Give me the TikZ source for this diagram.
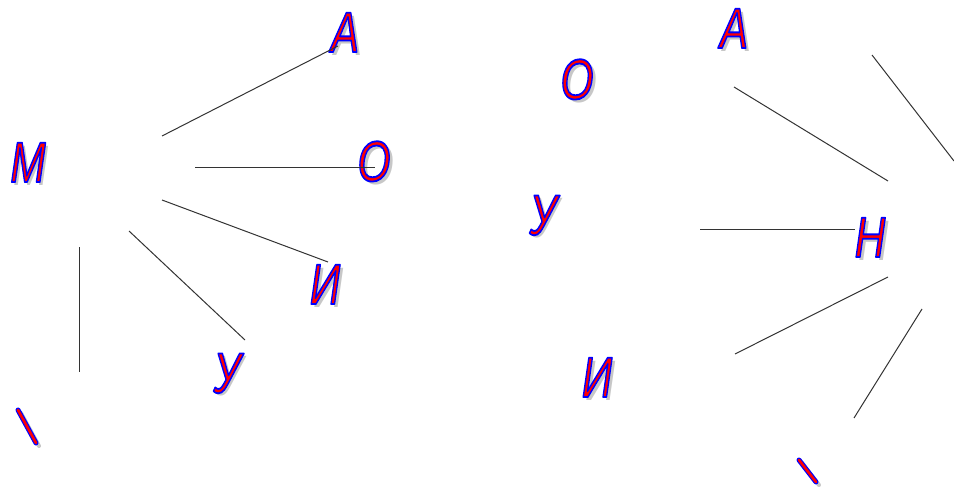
\documentclass[tikz,border=0pt]{standalone}
\usepackage{fontspec}
\setmainfont{Liberation Sans}
\usetikzlibrary{calc}
\newcommand\fx[1]{\scalebox{0.74}[1]{#1}}
\newcommand\outl[1]{\special{pdf:literal direct 2 Tr 1.8 w 1 j 0 0 1 RG}#1\special{pdf:literal direct 0 Tr}}
\newcommand\shad[1]{\makebox[0pt][l]{\hspace{4.6pt}\raisebox{-3.2pt}{\color{black!22}#1}}}
\newcommand\lettr[3]{%
  \node[lt, text=red] (#1) at #2 {\fx{\shad{#3}\outl{#3}}};
}
\newcommand\stroke[2]{%
  \draw[black!22, line width=4pt, line cap=round] ($(#1)+(3,3)$) -- ($(#2)+(3,3)$);
  \draw[blue, line width=5pt, line cap=round] (#1) -- (#2);
  \draw[red, line width=2.6pt, line cap=round] (#1) -- (#2);
}
\tikzset{
  lt/.style={inner sep=0pt, font=\fontsize{57}{60}\itshape},
  link/.style={black!80, line width=1pt}
}
\begin{document}
\begin{tikzpicture}[x=1pt,y=-1pt]
\useasboundingbox (0,0) rectangle (954,487);
% letters left
\lettr{M}{(28,164)}{М}
\lettr{A1}{(345,34)}{А}
\lettr{O1}{(374,163)}{О}
\lettr{I1}{(325,286)}{И}
\lettr{U1}{(227,375)}{У}
% letters right
\lettr{O2}{(577,81)}{О}
\lettr{A2}{(734,30)}{А}
\lettr{U2}{(543,217)}{У}
\lettr{I2}{(597,379)}{И}
\lettr{N}{(870,239)}{Н}
% strokes
\coordinate (s1a) at (18,410); \coordinate (s1b) at (36,443);
\coordinate (s2a) at (799,460); \coordinate (s2b) at (816,482);
\stroke{s1a}{s1b}
\stroke{s2a}{s2b}
% line ends left
\coordinate (a1) at (162,136); \coordinate (b1) at (338,46);
\coordinate (a2) at (195,167); \coordinate (b2) at (375,167);
\coordinate (a3) at (162,200); \coordinate (b3) at (328,262);
\coordinate (a4) at (129,231); \coordinate (b4) at (245,340);
\coordinate (a5) at (79,247);  \coordinate (b5) at (79,372);
% line ends right
\coordinate (c1) at (734,87);  \coordinate (d1) at (888,181);
\coordinate (c2) at (700,229); \coordinate (d2) at (855,229);
\coordinate (c3) at (888,277); \coordinate (d3) at (735,354);
\coordinate (c4) at (922,309); \coordinate (d4) at (854,418);
\coordinate (c5) at (872,55);  \coordinate (d5) at (954,161);
\foreach \p/\q in {a1/b1,a2/b2,a3/b3,a4/b4,a5/b5,c1/d1,c2/d2,c3/d3,c4/d4,c5/d5}
  \draw[link] (\p) -- (\q);
\end{tikzpicture}
\end{document}
